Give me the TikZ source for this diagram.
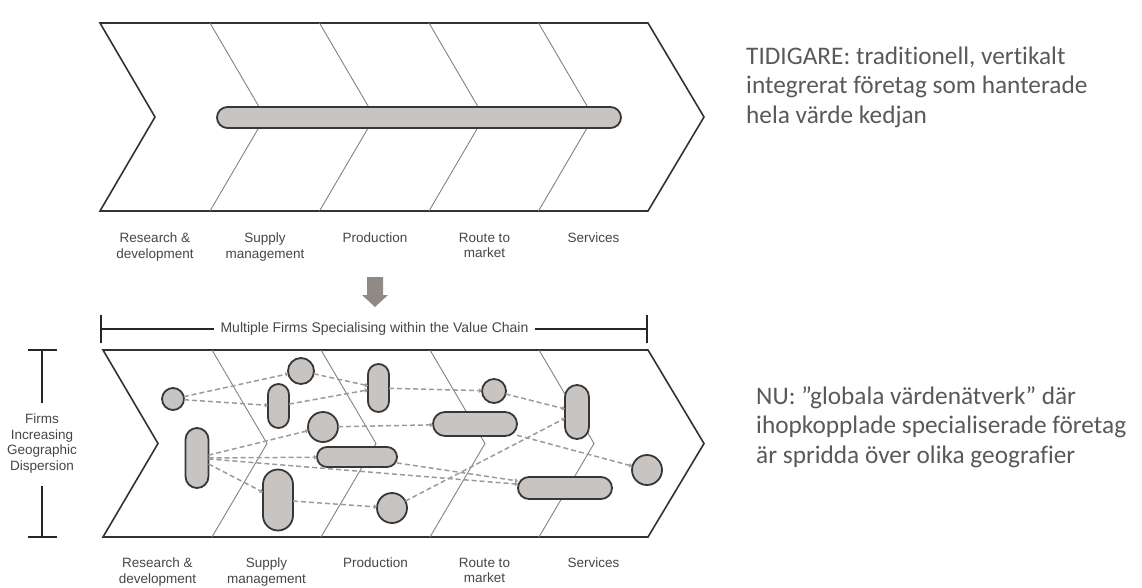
\documentclass[tikz,border=0pt]{standalone}
\usepackage{fontspec}
\setmainfont{Carlito}[Ligatures=NoCommon]
\newfontfamily\labfont{Liberation Sans}
\usetikzlibrary{arrows.meta}
\definecolor{nodefill}{RGB}{200,196,193}
\definecolor{nodeedge}{RGB}{55,55,55}
\definecolor{outline}{RGB}{50,50,50}
\definecolor{divider}{RGB}{130,130,130}
\definecolor{dashc}{RGB}{155,155,155}
\definecolor{labc}{RGB}{70,70,70}
\definecolor{bodyc}{RGB}{89,89,89}
\definecolor{arrowc}{RGB}{145,137,132}
\begin{document}
\begin{tikzpicture}[x=1pt,y=-1pt,
  firm/.style={draw=nodeedge, line width=1.8pt, fill=nodefill, inner sep=0pt, outer sep=0pt},
  dot/.style={firm, circle, minimum size=#1},
  link/.style={draw=dashc, line width=1.5pt, dash pattern=on 5pt off 3pt, -{Triangle[length=3pt,width=4.5pt]}},
  chev/.style={draw=outline, line width=1.6pt, line join=miter},
  divline/.style={draw=divider, line width=0.9pt},
  lab/.style={font=\labfont\fontsize{13.5}{15.5}\selectfont, text=labc, align=center, inner sep=0pt, anchor=north},
  body/.style={font=\fontsize{25.3}{29.5}\selectfont, text=bodyc, inner sep=0pt, anchor=base west},
  brk/.style={draw=black!85, line width=1.8pt},
]
\useasboundingbox (0,0) rectangle (1142,587);

% ---------- top chevron ----------
\draw[chev] (100,23) -- (648,23) -- (704,117) -- (648,211) -- (100,211) -- (155,117) -- cycle;
\foreach \x in {210,319.5,429,538.5}
  \draw[divline] (\x,23) -- (\x+55,117) -- (\x,211);
\node[firm, rectangle, rounded corners=10.5pt, minimum width=404pt, minimum height=21pt] (bar) at (419,117.5) {};

% top labels
\node[lab] (t1) at (155,233) {Research \&\\development};
\node[lab] (t2) at (265,233) {Supply\\management};
\node[lab] (t3) at (375,233) {Production};
\node[lab] (t4) at (484.5,233) {Route to\\market};
\node[lab] (t5) at (593.5,233) {Services};

% down arrow
\fill[arrowc] (367,277) -- (383,277) -- (383,295) -- (388,295) -- (375,307) -- (362,295) -- (367,295) -- cycle;

% ---------- bracket ----------
\coordinate (bl) at (101,329);
\coordinate (br) at (647,329);
\node[font=\labfont\fontsize{14}{16}\selectfont, text=labc, inner sep=6pt] (btxt) at (374.5,329) {Multiple Firms Specialising within the Value Chain};
\draw[brk] (bl) -- (btxt.west);
\draw[brk] (btxt.east) -- (br);
\draw[brk] (101,315) -- (101,343);
\draw[brk] (647,315) -- (647,343);

% left vertical bracket
\node[lab, anchor=center, font=\labfont\fontsize{13.5}{15.6}\selectfont, inner sep=6pt] (side) at (42,443.5) {Firms\\Increasing\\Geographic\\Dispersion};
\coordinate (vt) at (42,350);
\coordinate (vb) at (42,537);
\draw[brk] (vt) -- (42,403);
\draw[brk] (42,486) -- (vb);
\draw[brk] (28,350) -- (57,350);
\draw[brk] (28,537) -- (57,537);

% ---------- bottom chevron ----------
\draw[chev] (103,350) -- (648,350) -- (704,443.5) -- (648,537) -- (103,537) -- (158,443.5) -- cycle;
\foreach \x in {212,321,430,539}
  \draw[divline] (\x,350) -- (\x+55,443.5) -- (\x,537);

% firms
\node[dot=22pt] (A) at (173,399) {};
\node[dot=26pt] (H) at (301,371) {};
\node[firm, rectangle, rounded corners=10.5pt, minimum width=21pt, minimum height=44pt] (I) at (278.5,406) {};
\node[dot=30pt] (J) at (323,427) {};
\node[firm, rectangle, rounded corners=10.5pt, minimum width=21pt, minimum height=48pt] (K) at (378.5,388) {};
\node[firm, rectangle, rounded corners=10pt, minimum width=80pt, minimum height=20pt] (L) at (357,457) {};
\node[firm, rectangle, rounded corners=11.5pt, minimum width=23pt, minimum height=60pt] (B) at (197,458) {};
\node[firm, rectangle, rounded corners=15pt, minimum width=30pt, minimum height=61pt] (M) at (278,500) {};
\node[dot=30pt] (N) at (392,508) {};
\node[dot=24pt] (F) at (494,391) {};
\node[firm, rectangle, rounded corners=12pt, minimum width=84pt, minimum height=24pt] (G) at (475,424) {};
\node[firm, rectangle, rounded corners=12pt, minimum width=24pt, minimum height=54pt] (C) at (577,412) {};
\node[dot=30pt] (D) at (647,470) {};
\node[firm, rectangle, rounded corners=11pt, minimum width=94pt, minimum height=22pt] (E) at (565,488) {};

% links
\draw[link] (A) -- (H);
\draw[link] (A) -- (I);
\draw[link] (H) -- (K);
\draw[link] (I) -- (K);
\draw[link] (K) -- (F);
\draw[link] (J) -- (G);
\draw[link] (B) -- (J);
\draw[link] (B) -- (L);
\draw[link] (B) -- (E);
\draw[link] (L) -- (E);
\draw[link] (B) -- (M);
\draw[link] (M) -- (N);
\draw[link] (N) -- (C);
\draw[link] (F) -- (C);
\draw[link] (G) -- (D);

% bottom labels
\node[lab] (b1) at (157.5,558) {Research \&\\development};
\node[lab] (b2) at (266.5,558) {Supply\\management};
\node[lab] (b3) at (375.5,558) {Production};
\node[lab] (b4) at (484.5,558) {Route to\\market};
\node[lab] (b5) at (593.5,558) {Services};

% ---------- right texts ----------
\node[body] (p1) at (746,64) {TIDIGARE: traditionell, vertikalt};
\node[body] (p2) at (746,93.5) {integrerat företag som hanterade};
\node[body] (p3) at (746,123) {hela värde kedjan};
\node[body] (q1) at (756,404) {NU: ”globala värdenätverk” där};
\node[body] (q2) at (756,433.5) {ihopkopplade specialiserade företag};
\node[body] (q3) at (756,463) {är spridda över olika geografier};
\end{tikzpicture}
\end{document}
